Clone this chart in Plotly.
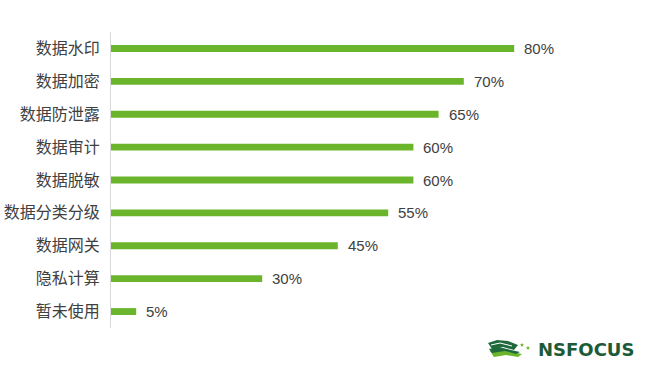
import math
import plotly.graph_objects as go

categories = ["数据水印", "数据加密", "数据防泄露", "数据审计", "数据脱敏", "数据分类分级", "数据网关", "隐私计算", "暂未使用"]
values = [80, 70, 65, 60, 60, 55, 45, 30, 5]
labels = [f"{v}%" for v in values]

W, H = 663, 371
L, R, T, B = 111, 48, 32, 43

fig = go.Figure(go.Bar(
    x=values, y=categories, orientation="h",
    marker=dict(color="#6bb52c", line=dict(width=0)),
    width=0.21, hoverinfo="skip",
))

for c, v, t in zip(categories, values, labels):
    fig.add_annotation(x=v, y=c, text=t, showarrow=False, xanchor="left", xshift=8,
                       font=dict(size=15, color="#404040", family="Liberation Sans, Arial, sans-serif"))

fig.update_layout(
    width=W, height=H,
    margin=dict(l=L, r=R, t=T, b=B, autoexpand=False),
    paper_bgcolor="white", plot_bgcolor="white",
    showlegend=False,
    font=dict(family="Noto Sans CJK SC, sans-serif", color="#404040", size=15),
    xaxis=dict(range=[0, 100], visible=False, showgrid=False, zeroline=False),
    yaxis=dict(autorange="reversed", showgrid=False, zeroline=False, automargin=False,
               showline=True, linecolor="#d9d9d9", linewidth=1,
               ticks="", ticklabelstandoff=7,
               tickfont=dict(size=16, color="#404040", family="Noto Sans CJK SC, sans-serif")),
)

# Logo (text + simple flag shapes) — pixel -> paper coordinates of the plot area
PW, PH = W - L - R, H - T - B
def px(x, y):
    return (x - L) / PW, 1 - (y - T) / PH

def path(pts, close=True):
    d = "M " + " L ".join(f"{px(x,y)[0]:.5f},{px(x,y)[1]:.5f}" for x, y in pts)
    return d + (" Z" if close else "")

fig.add_annotation(
    x=px(586, 349.5)[0], y=px(586, 349.5)[1], xref="paper", yref="paper",
    text="<b>NSFOCUS</b>", showarrow=False,
    font=dict(size=18, color="#1d5a38", family="DejaVu Sans, sans-serif"),
    xanchor="center", yanchor="middle",
)
# dark green upper flag
fig.add_shape(type="path", xref="paper", yref="paper", fillcolor="#1f6a3d", line=dict(width=0),
              path=path([(488, 343), (497, 340), (508, 341), (518, 345), (514, 350), (503, 347), (492, 349)]))
fig.add_shape(type="path", xref="paper", yref="paper", line=dict(color="white", width=1),
              path=path([(491, 345), (500, 343), (512, 346)], close=False))
# light green lower wave
fig.add_shape(type="path", xref="paper", yref="paper", fillcolor="#6bb52c", line=dict(width=0),
              path=path([(490, 351), (500, 349), (512, 352), (522, 354), (518, 357), (506, 355), (494, 357)]))
fig.add_shape(type="path", xref="paper", yref="paper", fillcolor="#1f6a3d", line=dict(width=0),
              path=path([(489, 349), (499, 347), (511, 350), (520, 352), (516, 354), (505, 351), (492, 353)]))
# small stars
def star(cx, cy, r):
    pts = []
    for i in range(10):
        a = -math.pi / 2 + i * math.pi / 5
        rr = r if i % 2 == 0 else r * 0.45
        pts.append((cx + rr * math.cos(a), cy + rr * math.sin(a)))
    return pts
for sx, sy in [(522, 345), (528, 348)]:
    fig.add_shape(type="path", xref="paper", yref="paper", fillcolor="#6bb52c", line=dict(width=0),
                  path=path(star(sx, sy, 2.2)))

fig.write_html("out.html", config={"displayModeBar": False},
               post_script="document.body.style.margin='0';")
